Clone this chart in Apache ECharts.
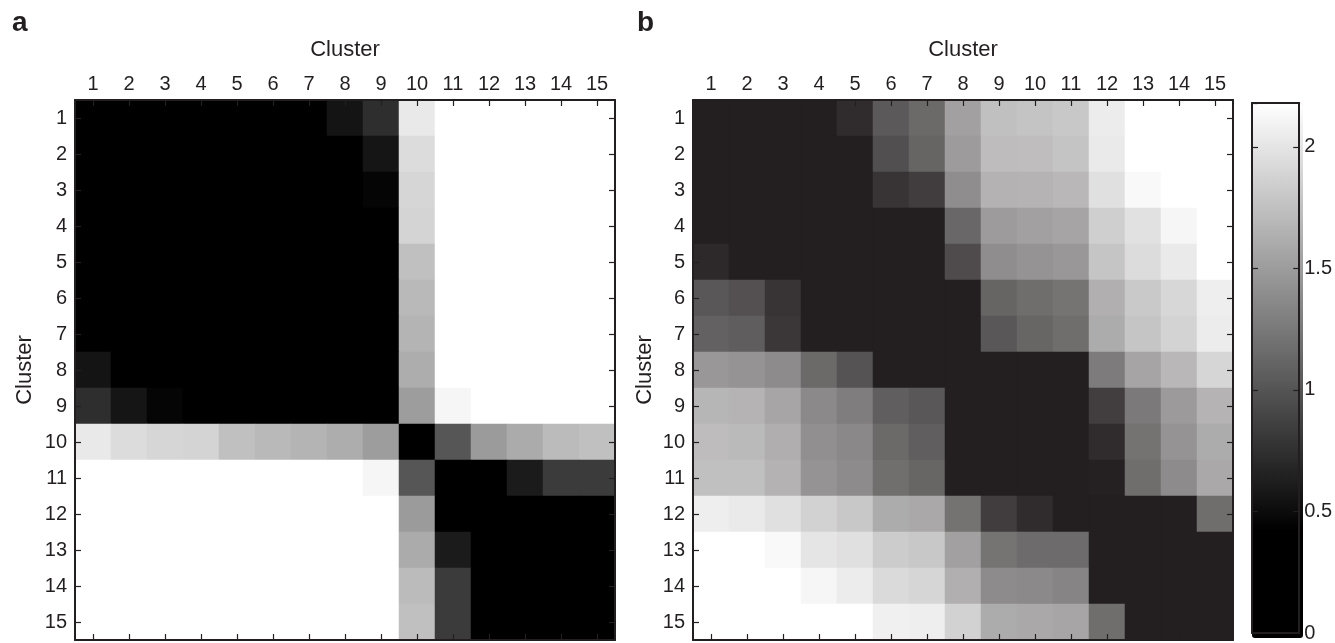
<!DOCTYPE html>
<html>
<head>
<meta charset="utf-8">
<script src="https://cdn.jsdelivr.net/npm/echarts@6.0.0/dist/echarts.min.js"></script>
<style>
html,body{margin:0;padding:0;background:#fff;}
#chart{width:1335px;height:643px;}
</style>
</head>
<body>
<div id="chart"></div>
<script>
// ---- data ----
const clusters = ['1','2','3','4','5','6','7','8','9','10','11','12','13','14','15'];

// panel a: distance matrix (rows = cluster 1..15 top to bottom, cols = cluster 1..15)
const distA = [
  [0.00,0.30,0.30,0.30,0.30,0.30,0.30,0.57,0.75,2.03,2.18,2.18,2.18,2.18,2.18],
  [0.30,0.00,0.30,0.30,0.30,0.30,0.30,0.30,0.58,1.94,2.18,2.18,2.18,2.18,2.18],
  [0.30,0.30,0.00,0.30,0.30,0.30,0.30,0.30,0.47,1.90,2.18,2.18,2.18,2.18,2.18],
  [0.30,0.30,0.30,0.00,0.30,0.30,0.30,0.30,0.30,1.89,2.18,2.18,2.18,2.18,2.18],
  [0.30,0.30,0.30,0.30,0.00,0.30,0.30,0.30,0.30,1.75,2.18,2.18,2.18,2.18,2.18],
  [0.30,0.30,0.30,0.30,0.30,0.00,0.30,0.30,0.30,1.70,2.18,2.18,2.18,2.18,2.18],
  [0.30,0.30,0.30,0.30,0.30,0.30,0.00,0.30,0.30,1.67,2.18,2.18,2.18,2.18,2.18],
  [0.57,0.30,0.30,0.30,0.30,0.30,0.30,0.00,0.30,1.62,2.18,2.18,2.18,2.18,2.18],
  [0.75,0.58,0.47,0.30,0.30,0.30,0.30,0.30,0.00,1.51,2.12,2.18,2.18,2.18,2.18],
  [2.03,1.94,1.90,1.89,1.75,1.70,1.67,1.62,1.51,0.00,1.02,1.50,1.61,1.72,1.75],
  [2.18,2.18,2.18,2.18,2.18,2.18,2.18,2.18,2.12,1.02,0.00,0.30,0.62,0.84,0.84],
  [2.18,2.18,2.18,2.18,2.18,2.18,2.18,2.18,2.18,1.50,0.30,0.00,0.30,0.30,0.30],
  [2.18,2.18,2.18,2.18,2.18,2.18,2.18,2.18,2.18,1.61,0.62,0.30,0.00,0.30,0.30],
  [2.18,2.18,2.18,2.18,2.18,2.18,2.18,2.18,2.18,1.72,0.84,0.30,0.30,0.00,0.30],
  [2.18,2.18,2.18,2.18,2.18,2.18,2.18,2.18,2.18,1.75,0.84,0.30,0.30,0.30,0.00]
];

// panel b: distance matrix
const distB = [
  [0.00,0.30,0.30,0.30,0.54,0.89,1.01,1.44,1.69,1.72,1.75,2.03,2.18,2.18,2.18],
  [0.30,0.00,0.30,0.30,0.42,0.81,0.97,1.40,1.66,1.67,1.72,2.02,2.18,2.18,2.18],
  [0.30,0.30,0.00,0.30,0.30,0.60,0.67,1.29,1.58,1.59,1.62,1.94,2.13,2.18,2.18],
  [0.30,0.30,0.30,0.00,0.30,0.30,0.30,1.00,1.40,1.44,1.47,1.81,1.95,2.11,2.18],
  [0.51,0.30,0.30,0.30,0.00,0.30,0.30,0.78,1.29,1.34,1.37,1.73,1.91,2.02,2.18],
  [0.87,0.82,0.60,0.30,0.30,0.00,0.30,0.30,0.97,1.04,1.09,1.56,1.76,1.87,2.05],
  [0.95,0.92,0.62,0.30,0.30,0.30,0.00,0.30,0.87,0.98,1.04,1.53,1.73,1.84,2.03],
  [1.37,1.34,1.28,1.01,0.84,0.30,0.30,0.00,0.30,0.30,0.30,1.15,1.47,1.62,1.86],
  [1.61,1.59,1.48,1.26,1.17,0.93,0.87,0.30,0.00,0.30,0.30,0.68,1.14,1.39,1.59],
  [1.66,1.64,1.55,1.31,1.25,1.01,0.93,0.30,0.30,0.00,0.30,0.54,1.08,1.34,1.53],
  [1.69,1.69,1.58,1.34,1.28,1.05,0.98,0.30,0.30,0.30,0.00,0.45,1.04,1.28,1.50],
  [2.05,2.02,1.94,1.83,1.75,1.53,1.50,1.08,0.67,0.54,0.30,0.00,0.30,0.30,1.04],
  [2.18,2.18,2.13,1.98,1.94,1.78,1.75,1.44,1.09,1.03,1.03,0.30,0.00,0.30,0.30],
  [2.18,2.18,2.18,2.11,2.03,1.89,1.86,1.56,1.28,1.26,1.22,0.30,0.30,0.00,0.30],
  [2.18,2.18,2.18,2.18,2.18,2.06,2.05,1.83,1.53,1.50,1.48,1.04,0.30,0.30,0.00]
];

// colour scale range
const scaleMin = 0;
const scaleMax = 2.18;
const scaleInterval = 0.5;

// ---- build ----
function toCells(m) {
  const out = [];
  m.forEach((row, r) => row.forEach((v, c) => out.push([c, r, v])));
  return out;
}

const FONT = 'Liberation Sans, Arial, Helvetica, sans-serif';
const INK = '#231f20';
const rampA = ['#000000','#000000','#000000','#202020','#404040','#606060','#808080','#9f9f9f','#bfbfbf','#dfdfdf','#ffffff'];
const rampB = ['#231f20','#231f20','#231f20','#3f3b3c','#5a5758','#767373','#918f90','#adabab','#c8c7c7','#e4e3e3','#ffffff'];

const grids = [
  {left: 75, top: 100, width: 540, height: 540},
  {left: 693, top: 100, width: 540, height: 540},
  {left: 1252, top: 103, width: 51, height: 535}
];

const axisLineStyle = {show: true, onZero: false, lineStyle: {color: INK, width: 2}};
const tickStyle = {show: true, inside: true, length: 6, alignWithLabel: true, lineStyle: {color: INK, width: 1.2}};

function catX(gi, pos, withLabel) {
  return {
    type: 'category', gridIndex: gi, data: clusters, position: pos, z: 10,
    axisLine: axisLineStyle, axisTick: tickStyle,
    axisLabel: {show: withLabel, fontSize: 20, color: INK, fontFamily: FONT, margin: 6},
    splitLine: {show: false},
    name: withLabel ? 'Cluster' : '', nameLocation: 'middle', nameGap: 39,
    nameTextStyle: {fontSize: 22, color: INK, fontFamily: FONT}
  };
}
function catY(gi, pos, withLabel, gap) {
  return {
    type: 'category', gridIndex: gi, data: clusters, inverse: true, position: pos, z: 10,
    axisLine: axisLineStyle, axisTick: tickStyle,
    axisLabel: {show: withLabel, fontSize: 20, color: INK, fontFamily: FONT, margin: 8},
    splitLine: {show: false},
    name: withLabel ? 'Cluster' : '', nameLocation: 'middle', nameGap: gap, nameRotate: 90,
    nameTextStyle: {fontSize: 22, color: INK, fontFamily: FONT}
  };
}

const option = {
  backgroundColor: '#ffffff',
  animation: false,
  grid: grids,
  graphic: [
    {type: 'text', left: 12, top: 9, style: {text: 'a', font: 'bold 28px ' + FONT, fill: INK}},
    {type: 'text', left: 637, top: 9, style: {text: 'b', font: 'bold 28px ' + FONT, fill: INK}}
  ],
  xAxis: [
    catX(0, 'top', true), catX(0, 'bottom', false),
    catX(1, 'top', true), catX(1, 'bottom', false),
    {type: 'value', gridIndex: 2, min: 0, max: 1, position: 'bottom', z: 10, axisLine: axisLineStyle,
     axisTick: {show: false}, axisLabel: {show: false}, splitLine: {show: false}},
    {type: 'value', gridIndex: 2, min: 0, max: 1, position: 'top', z: 10, axisLine: axisLineStyle,
     axisTick: {show: false}, axisLabel: {show: false}, splitLine: {show: false}}
  ],
  yAxis: [
    catY(0, 'left', true, 39), catY(0, 'right', false, 0),
    catY(1, 'left', true, 37), catY(1, 'right', false, 0),
    {type: 'value', gridIndex: 2, min: scaleMin, max: scaleMax, interval: scaleInterval, position: 'right', z: 10,
     axisLine: axisLineStyle,
     axisTick: {show: true, inside: true, length: 6, lineStyle: {color: INK, width: 1.2}},
     axisLabel: {show: true, fontSize: 20, color: INK, fontFamily: FONT, margin: 5, showMaxLabel: false,
       formatter: v => String(v)},
     splitLine: {show: false}},
    {type: 'value', gridIndex: 2, min: scaleMin, max: scaleMax, interval: scaleInterval, position: 'left', z: 10,
     axisLine: axisLineStyle,
     axisTick: {show: true, inside: true, length: 6, lineStyle: {color: INK, width: 1.2}},
     axisLabel: {show: false}, splitLine: {show: false}}
  ],
  visualMap: [
    {type: 'continuous', seriesIndex: 0, min: scaleMin, max: scaleMax, show: true, calculable: false,
     hoverLink: false, realtime: false, orient: 'vertical', left: 1252, top: 103, padding: 0,
     itemWidth: 51, itemHeight: 535, text: null, showLabel: false,
     inRange: {color: rampA}},
    {type: 'continuous', seriesIndex: 1, min: scaleMin, max: scaleMax, show: false, calculable: false,
     inRange: {color: rampB}}
  ],
  series: [
    {type: 'heatmap', xAxisIndex: 0, yAxisIndex: 0, data: toCells(distA), progressive: 0,
     itemStyle: {borderWidth: 0}, emphasis: {disabled: true}},
    {type: 'heatmap', xAxisIndex: 2, yAxisIndex: 2, data: toCells(distB), progressive: 0,
     itemStyle: {borderWidth: 0}, emphasis: {disabled: true}}
  ]
};

const chart = echarts.init(document.getElementById('chart'), null, {renderer: 'canvas'});
chart.setOption(option);
</script>
</body>
</html>
